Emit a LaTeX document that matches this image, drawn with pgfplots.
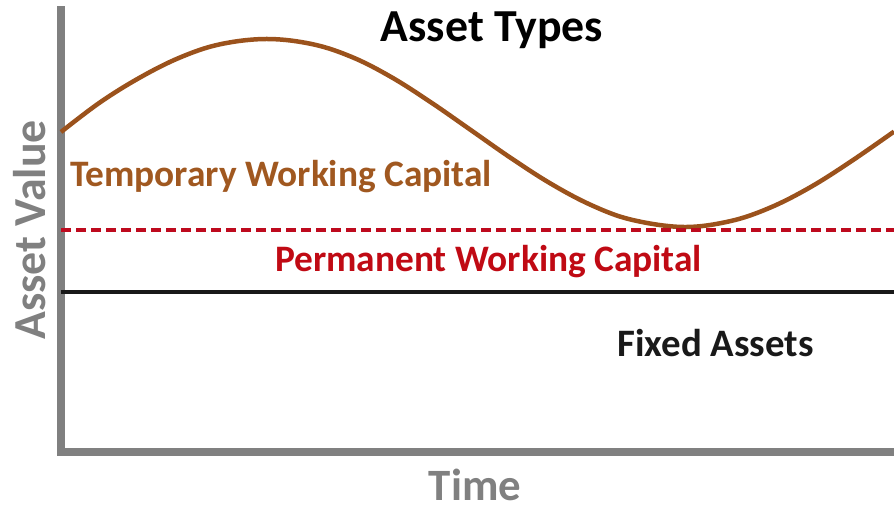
\documentclass[border=0pt]{standalone}
\usepackage{pgfplots}
\pgfplotsset{compat=1.18}
\usepackage{fontspec}
\setmainfont{Carlito}
\definecolor{axisgray}{RGB}{128,128,128}
\definecolor{curvebrown}{RGB}{155,82,28}
\definecolor{tempbrown}{RGB}{160,88,32}
\definecolor{permred}{RGB}{192,10,20}
\definecolor{dashred}{RGB}{190,10,30}
\definecolor{fixblack}{RGB}{25,25,25}
\begin{document}
\begin{tikzpicture}
\begin{axis}[
  scale only axis, width=833bp, height=442bp,
  xmin=0, xmax=833, ymin=0, ymax=442,
  axis x line*=bottom, axis y line*=left,
  axis line style={draw=axisgray, line width=7bp, -, line cap=rect},
  ticks=none,
  clip=false,
]
\addplot[curvebrown, line width=4.5bp, smooth, tension=0.6] coordinates {
(0,320) (39,349.6) (79,374.5) (119,394.5) (159,407.7) (206,413) (252,407.7)
(292,394.5) (331,374.5) (370,349.6) (410,321.8) (450,293.9) (490,268.2)
(530,247.0) (570,232.4) (622,225) (669,230.8) (709,244.3) (749,264.6)
(789,289.9) (833,320.4)};
\addplot[dashred, line width=4bp, dash pattern=on 10bp off 5bp] coordinates {(0,222) (833,222)};
\addplot[fixblack, line width=4bp] coordinates {(0,160) (833,160)};
\node[anchor=base, inner sep=0pt, font=\fontsize{46}{52}\selectfont\bfseries, text=black] at (axis cs:431,410) {Asset Types};
\node[anchor=base west, inner sep=0pt, font=\fontsize{37.5}{44}\selectfont\bfseries, text=tempbrown] at (axis cs:9,265) {Temporary Working Capital};
\node[anchor=base west, inner sep=0pt, font=\fontsize{37.5}{44}\selectfont\bfseries, text=permred] at (axis cs:214,180) {Permanent Working Capital};
\node[anchor=base west, inner sep=0pt, font=\fontsize{39}{46}\selectfont\bfseries, text=fixblack] at (axis cs:556,95) {Fixed Assets};
\node[anchor=base, inner sep=0pt, font=\fontsize{45}{52}\selectfont\bfseries, text=axisgray] at (axis cs:414,-48) {Time};
\node[anchor=center, rotate=90, inner sep=0pt, font=\fontsize{46}{52}\selectfont\bfseries, text=axisgray] at (axis cs:-31,222) {Asset Value};
\coordinate (bbl) at (axis cs:-61,-60);
\coordinate (btr) at (axis cs:833,452);
\end{axis}
\pgfresetboundingbox
\useasboundingbox (bbl) rectangle (btr);
\end{tikzpicture}
\end{document}
